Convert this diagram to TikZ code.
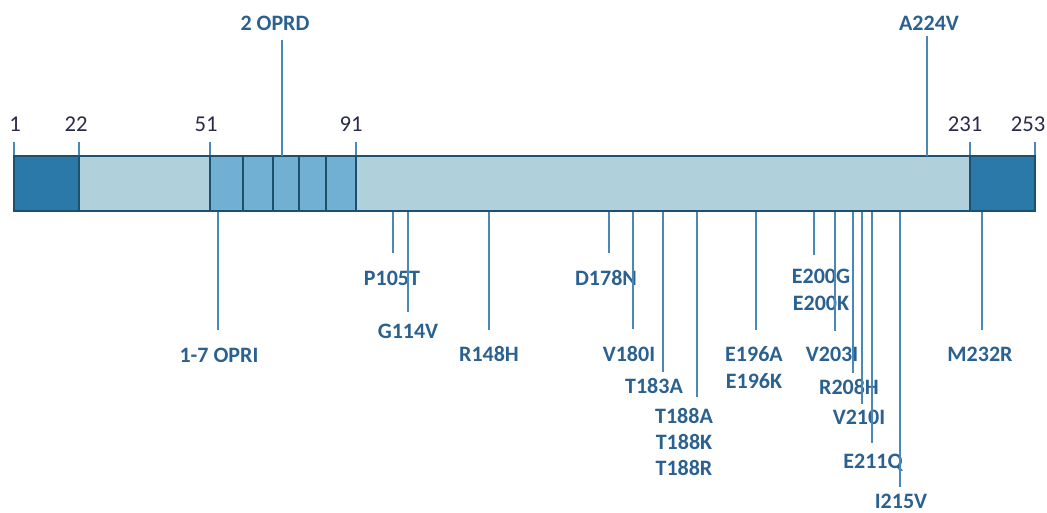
\documentclass[tikz,border=0pt]{standalone}
\usepackage{fontspec}
\setmainfont{Carlito}
\definecolor{darkfill}{HTML}{2B79A8}
\definecolor{lightfill}{HTML}{B0D0DC}
\definecolor{midfill}{HTML}{72B0D3}
\definecolor{edge}{HTML}{1D4F6E}
\definecolor{mline}{HTML}{4A88B8}
\definecolor{labtext}{HTML}{2A6190}
\definecolor{numtext}{HTML}{2A2A4A}
\tikzset{
  seg/.style={draw=edge, line width=1.9pt},
  tick/.style={draw=mline, line width=1.7pt},
  mut/.style={draw=mline, line width=0.9pt},
  lab/.style={font=\fontsize{16.5}{19}\selectfont\bfseries, text=labtext, inner sep=0pt, anchor=center},
  num/.style={font=\fontsize{17}{19}\selectfont, text=numtext, inner sep=0pt, anchor=center}
}
\begin{document}
\begin{tikzpicture}[x=0.75pt, y=-0.75pt]
\useasboundingbox (0,0) rectangle (1047,513);
% ticks
\foreach \x in {14,79,210,356,970,1035} \draw[tick] (\x,142) -- (\x,156);
% bar segments
\path[seg, fill=darkfill] (14,156) rectangle (79,211);
\path[seg, fill=lightfill] (79,156) rectangle (210,211);
\path[seg, fill=midfill] (210,156) rectangle (243,211);
\path[seg, fill=midfill] (243,156) rectangle (273,211);
\path[seg, fill=midfill] (273,156) rectangle (299,211);
\path[seg, fill=midfill] (299,156) rectangle (326,211);
\path[seg, fill=midfill] (326,156) rectangle (356,211);
\path[seg, fill=lightfill] (356,156) rectangle (970,211);
\path[seg, fill=darkfill] (970,156) rectangle (1035,211);
% position numbers
\node[num] (n1) at (15,124) {1};
\node[num] (n22) at (76,124) {22};
\node[num] (n51) at (206,124) {51};
\node[num] (n91) at (351,124) {91};
\node[num] (n231) at (965,124) {231};
\node[num] (n253) at (1028,124) {253};
% upper labels
\node[lab] (oprd) at (275,23) {2 OPRD};
\node[lab] (a224) at (929,23) {A224V};
\coordinate (oprdT) at (282,40); \coordinate (oprdB) at (282,156);
\coordinate (a224T) at (927,36); \coordinate (a224B) at (927,156);
\draw[mut] (oprdT) -- (oprdB);
\draw[mut] (a224T) -- (a224B);
% lower labels
\node[lab] (opri) at (219,355) {1-7 OPRI};
\node[lab] (p105) at (392,278) {P105T};
\node[lab] (g114) at (408,331) {G114V};
\node[lab] (r148) at (489,354) {R148H};
\node[lab] (d178) at (606,278) {D178N};
\node[lab] (v180) at (629,354) {V180I};
\node[lab] (t183) at (654,386) {T183A};
\node[lab] (t188a) at (684,416) {T188A};
\node[lab] (t188k) at (684,442) {T188K};
\node[lab] (t188r) at (684,468) {T188R};
\node[lab] (e196a) at (754,354) {E196A};
\node[lab] (e196k) at (754,381) {E196K};
\node[lab] (e200g) at (821,276) {E200G};
\node[lab] (e200k) at (821,303) {E200K};
\node[lab] (v203) at (832,354) {V203I};
\node[lab] (r208) at (849,387) {R208H};
\node[lab] (v210) at (859,417) {V210I};
\node[lab] (e211) at (873,463) {E211Q};
\node[lab] (i215) at (901,501) {I215V};
\node[lab] (m232) at (980,354) {M232R};
% lower connectors: bar bottom to free end above label
\foreach \x/\y in {218/330, 393/253, 408/312, 489/330, 609/253, 633/329, 663/372, 697/397, 756/330, 814/255, 835/331, 853/373, 862/404, 872/443, 900/487, 982/330}
  \draw[mut] (\x,212) -- (\x,\y);
\end{tikzpicture}
\end{document}
